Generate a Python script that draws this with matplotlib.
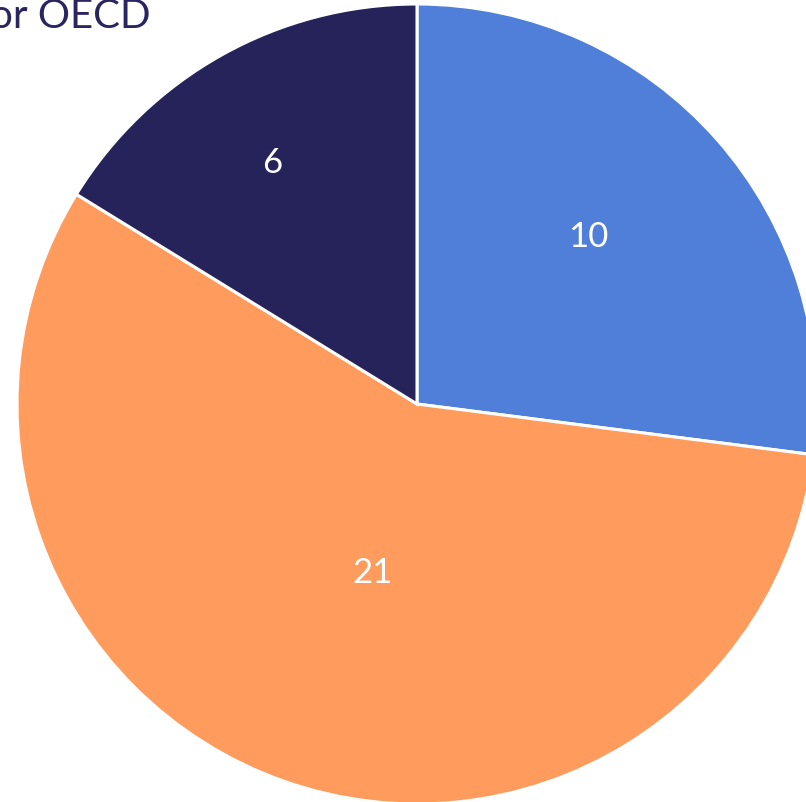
import matplotlib.pyplot as plt
import numpy as np

# slice values, clockwise from 12 o'clock
values = [10, 21, 6]
colors = ['#4F7FD8', '#FF9B5C', '#26225A']
label_dist = [0.6, 0.435, 0.705]
label_shift = [3.0, 4.5, 1.7]   # degrees, best-fit style nudge
title_text = 'or OECD'

W, H = 806, 803
fig = plt.figure(figsize=(W / 100, H / 100), dpi=100)
ax = fig.add_axes([0, 0, 1, 1])

cx, cy, r = 417, H - 405, 400
wedges, _ = ax.pie(values, colors=colors, startangle=90, counterclock=False,
                   center=(cx, cy), radius=r, frame=True,
                   wedgeprops=dict(edgecolor='white', linewidth=2.2))

for w, v, d, s in zip(wedges, values, label_dist, label_shift):
    mid = np.deg2rad((w.theta1 + w.theta2) / 2 + s)
    ax.text(cx + d * r * np.cos(mid), cy + d * r * np.sin(mid), str(v),
            ha='center', va='center', color='white', fontsize=25, family='Lato')

ax.text(150, H + 2, title_text, ha='right', va='top', color='#2A2560',
        fontsize=29, family='Lato')

ax.set_xlim(0, W)
ax.set_ylim(0, H)
ax.set_aspect('equal')
ax.axis('off')
fig.savefig('out.png', dpi=100)
